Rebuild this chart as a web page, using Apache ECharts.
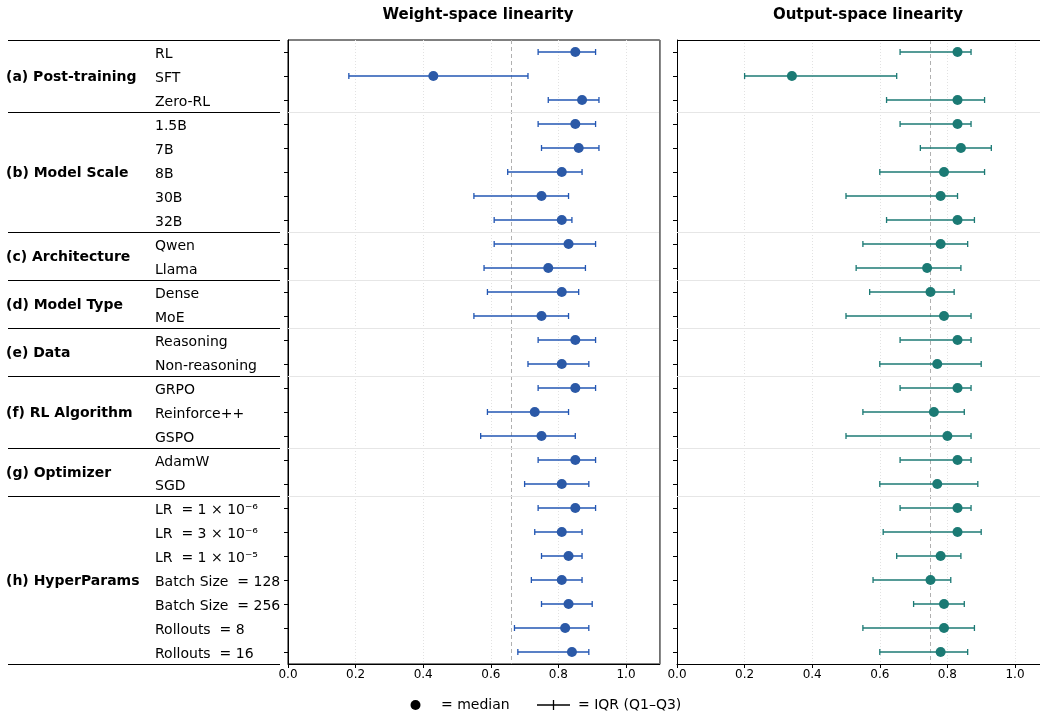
<!DOCTYPE html>
<html>
<head>
<meta charset="utf-8">
<script src="https://cdn.jsdelivr.net/npm/echarts@6/dist/echarts.min.js"></script>
<style>
html,body{margin:0;padding:0;background:#fff;}
#chart{width:1040px;height:715px;}
</style>
</head>
<body>
<div id="chart"></div>
<script>
const rowLabels = ['RL','SFT','Zero-RL','1.5B','7B','8B','30B','32B','Qwen','Llama','Dense','MoE',
  'Reasoning','Non-reasoning','GRPO','Reinforce++','GSPO','AdamW','SGD',
  'LR  = 1 × 10⁻⁶','LR  = 3 × 10⁻⁶','LR  = 1 × 10⁻⁵','Batch Size  = 128','Batch Size  = 256','Rollouts  = 8','Rollouts  = 16'];
const groupNames = ['(a) Post-training','(b) Model Scale','(c) Architecture','(d) Model Type','(e) Data','(f) RL Algorithm','(g) Optimizer','(h) HyperParams'];
const groupSizes = [3,5,2,2,2,3,2,7];

const weightMedian = [0.85,0.43,0.87,0.85,0.86,0.81,0.75,0.81,0.83,0.77,0.81,0.75,0.85,0.81,0.85,0.73,0.75,0.85,0.81,0.85,0.81,0.83,0.81,0.83,0.82,0.84];
const weightQ1     = [0.74,0.18,0.77,0.74,0.75,0.65,0.55,0.61,0.61,0.58,0.59,0.55,0.74,0.71,0.74,0.59,0.57,0.74,0.70,0.74,0.73,0.75,0.72,0.75,0.67,0.68];
const weightQ3     = [0.91,0.71,0.92,0.91,0.92,0.87,0.83,0.84,0.91,0.88,0.86,0.83,0.91,0.89,0.91,0.83,0.85,0.91,0.89,0.91,0.87,0.87,0.87,0.90,0.89,0.89];

const outputMedian = [0.83,0.34,0.83,0.83,0.84,0.79,0.78,0.83,0.78,0.74,0.75,0.79,0.83,0.77,0.83,0.76,0.80,0.83,0.77,0.83,0.83,0.78,0.75,0.79,0.79,0.78];
const outputQ1     = [0.66,0.20,0.62,0.66,0.72,0.60,0.50,0.62,0.55,0.53,0.57,0.50,0.66,0.60,0.66,0.55,0.50,0.66,0.60,0.66,0.61,0.65,0.58,0.70,0.55,0.60];
const outputQ3     = [0.87,0.65,0.91,0.87,0.93,0.91,0.83,0.88,0.86,0.84,0.82,0.87,0.87,0.90,0.87,0.85,0.87,0.87,0.89,0.87,0.90,0.84,0.81,0.85,0.88,0.86];

const refLines = [0.66, 0.75];
const panelTitles = ['Weight-space linearity','Output-space linearity'];
const xMax = [1.1, 1.074];

const FONT = 'DejaVu Sans';
const colors = [
  {dot:'#2b59a7', line:'#2256b3'},
  {dot:'#1b7a74', line:'#1c7a75'}
];

// group boundaries
const groups = [];
let start = 0;
groupSizes.forEach((n, gi) => { groups.push([0, start, start + n - 1, gi]); start += n; });

const chart = echarts.init(document.getElementById('chart'), null, {renderer:'canvas'});

function yAxisFor(i) {
  return {
    type:'category', gridIndex:i, data: rowLabels, inverse:true,
    axisLine:{show:true, lineStyle:{color:'#000', width:1}},
    axisTick:{show:true, alignWithLabel:true, length:4, lineStyle:{color:'#000'}},
    axisLabel: i === 0 ? {show:true, align:'left', verticalAlign:'top', lineHeight:5, margin:133,
      fontFamily:FONT, fontSize:14, color:'#000'} : {show:false},
    splitLine:{show:false}
  };
}
function xAxisFor(i) {
  return {
    type:'value', gridIndex:i, min:0, max:xMax[i], interval:0.2,
    axisLine:{show:true, onZero:false, lineStyle:{color:'#000', width:1}},
    axisTick:{show:true, length:4, lineStyle:{color:'#000'}},
    axisLabel:{fontFamily:FONT, fontSize:12, color:'#000', margin:5, showMaxLabel:false,
      formatter: v => v.toFixed(1)},
    splitLine:{show:true, showMaxLine:false, lineStyle:{color:'#e2e2e2', type:[1,2], width:1}}
  };
}

function errorSeries(i, q1, q3) {
  return {
    type:'custom', xAxisIndex:i, yAxisIndex:i, z:3,
    data: q1.map((v, k) => [v, q3[k], k]),
    encode:{x:[0,1], y:2},
    renderItem: function(params, api) {
      const y = api.value(2);
      const a = api.coord([api.value(0), y]);
      const b = api.coord([api.value(1), y]);
      const c = 3;
      const st = {stroke: colors[i].line, lineWidth: 1.3};
      return {type:'group', children:[
        {type:'line', shape:{x1:a[0], y1:a[1], x2:b[0], y2:b[1]}, style:st},
        {type:'line', shape:{x1:a[0], y1:a[1]-c, x2:a[0], y2:a[1]+c}, style:st},
        {type:'line', shape:{x1:b[0], y1:b[1]-c, x2:b[0], y2:b[1]+c}, style:st}
      ]};
    }
  };
}

function dotSeries(i, med) {
  return {
    type:'scatter', xAxisIndex:i, yAxisIndex:i, z:4,
    data: med.map((v, k) => [v, k]),
    symbol:'circle', symbolSize:10,
    itemStyle:{color: colors[i].dot, opacity:1},
    markLine:{
      silent:true, symbol:'none', z:1,
      label:{show:false},
      lineStyle:{type:[4,3], color:'#b0b0b0', width:1},
      data:[{xAxis: refLines[i]}]
    }
  };
}

function sepSeries(i) {
  return {
    type:'custom', xAxisIndex:i, yAxisIndex:i, z:1, clip:false,
    data: groups,
    encode:{x:0, y:1},
    renderItem: function(params, api) {
      const s = api.value(1), e = api.value(2), gi = api.value(3);
      const band = api.size([0,1])[1];
      const top = Math.round(api.coord([0, s])[1] - band/2) + 0.5;
      const bot = Math.round(api.coord([0, e])[1] + band/2) + 0.5;
      const cs = params.coordSys;
      const children = [];
      if (gi > 0) {
        children.push({type:'line', shape:{x1:cs.x, y1:top, x2:cs.x+cs.width, y2:top},
          style:{stroke:'#e6e6e6', lineWidth:1}});
      }
      if (i === 0) {
        children.push({type:'line', shape:{x1:8, y1:top, x2:280, y2:top}, style:{stroke:'#000', lineWidth:1}});
        if (gi === groupSizes.length - 1) {
          children.push({type:'line', shape:{x1:8, y1:bot, x2:280, y2:bot}, style:{stroke:'#000', lineWidth:1}});
        }
        children.push({type:'text', style:{text: groupNames[gi], x:6, y:(top+bot)/2 + 1,
          font:'bold 14px "' + FONT + '"', fill:'#000', align:'left', verticalAlign:'middle'}});
      }
      return {type:'group', children: children};
    }
  };
}

const option = {
  backgroundColor:'#fff',
  animation:false,
  textStyle:{fontFamily:FONT},
  title: panelTitles.map((t, i) => ({
    text:t, left: i === 0 ? 473 : 863, top:3, textAlign:'center',
    textStyle:{fontFamily:FONT, fontSize:15, fontWeight:'bold', color:'#000'}
  })),
  grid:[
    {left:288, top:40, width:371.8, height:624, show:true, borderColor:'#000', borderWidth:1, backgroundColor:'transparent'},
    {left:677, top:40, width:363, height:624, show:false}
  ],
  xAxis:[xAxisFor(0), xAxisFor(1)],
  yAxis:[yAxisFor(0), yAxisFor(1)],
  series:[
    sepSeries(0), sepSeries(1),
    errorSeries(0, weightQ1, weightQ3), dotSeries(0, weightMedian),
    errorSeries(1, outputQ1, outputQ3), dotSeries(1, outputMedian)
  ],
  graphic:[
    {type:'line', shape:{x1:659.8, y1:40, x2:659.8, y2:664}, style:{stroke:'#707070', lineWidth:1.6}, z:10},
    {type:'line', shape:{x1:677, y1:40.5, x2:1040, y2:40.5}, style:{stroke:'#000', lineWidth:1}, z:10},
    {type:'circle', shape:{cx:415.5, cy:705, r:5}, style:{fill:'#000'}},
    {type:'text', style:{text:'= median', x:441, y:705, font:'14px "' + FONT + '"', fill:'#000', verticalAlign:'middle'}},
    {type:'line', shape:{x1:537, y1:705, x2:570, y2:705}, style:{stroke:'#000', lineWidth:1.3}},
    {type:'line', shape:{x1:553.5, y1:700, x2:553.5, y2:710}, style:{stroke:'#000', lineWidth:1.3}},
    {type:'text', style:{text:'= IQR (Q1–Q3)', x:578, y:705, font:'14px "' + FONT + '"', fill:'#000', verticalAlign:'middle'}}
  ]
};
chart.setOption(option);
</script>
</body>
</html>
